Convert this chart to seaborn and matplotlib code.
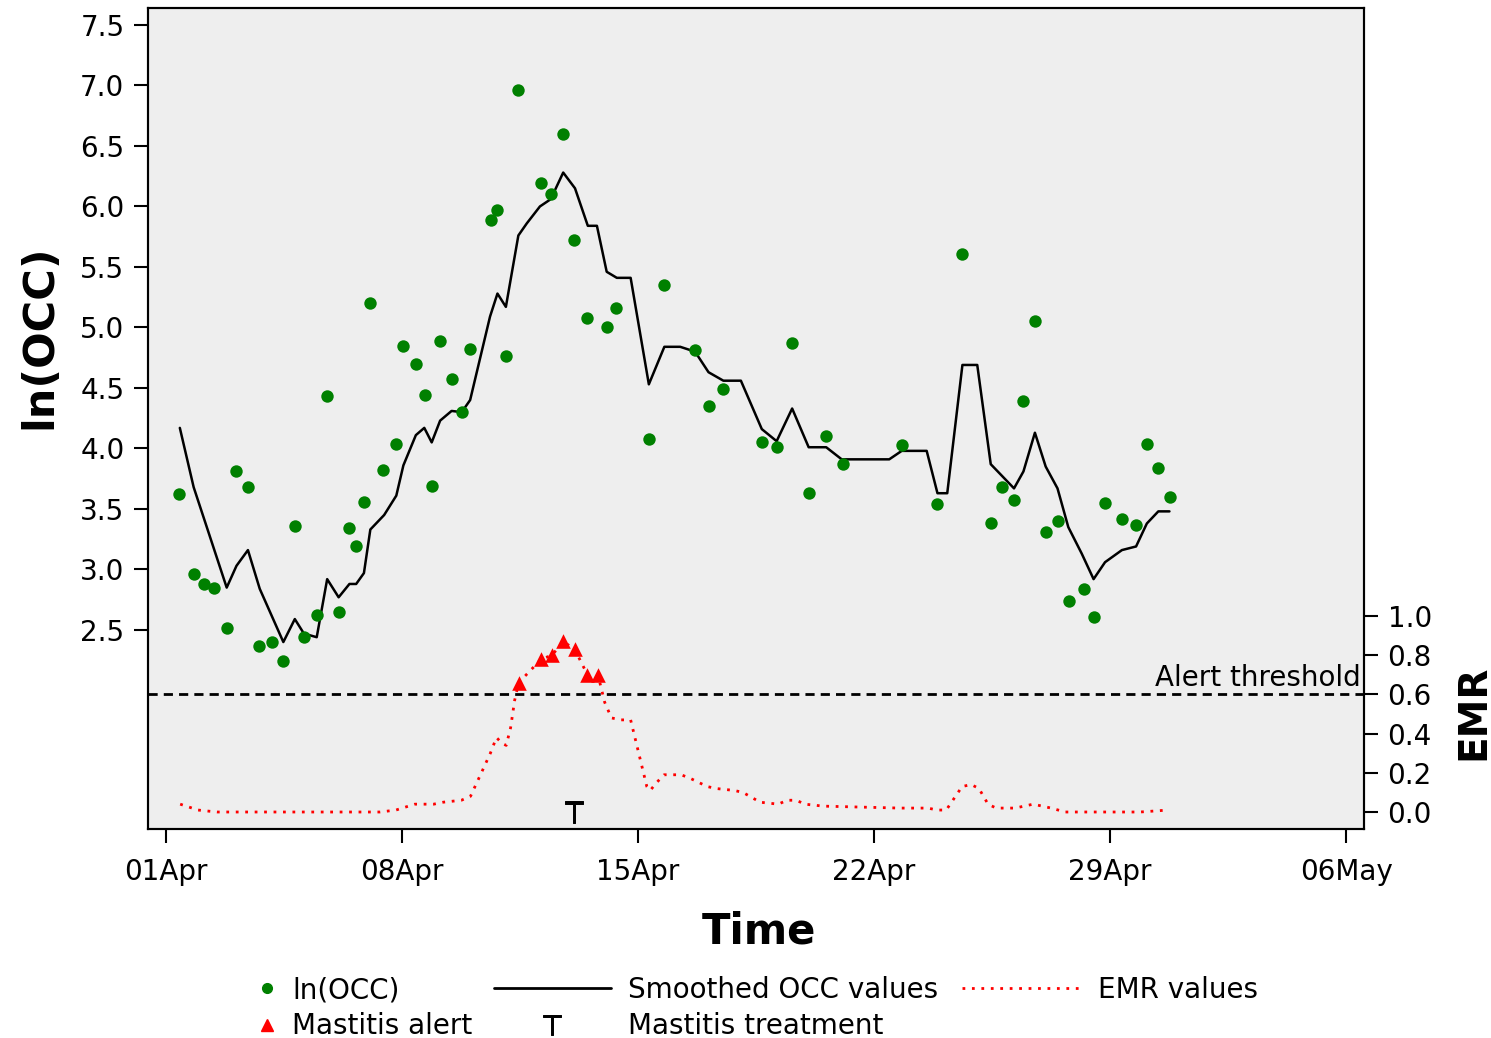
import numpy as np
import matplotlib
matplotlib.use("Agg")
import matplotlib.pyplot as plt
from matplotlib.lines import Line2D
import seaborn as sns

# days since 01Apr
occ_day = [0.39, 0.82, 1.13, 1.41, 1.80, 2.08, 2.43, 2.76, 3.14, 3.48,
           3.82, 4.09, 4.47, 4.78, 5.12, 5.42, 5.64, 5.87, 6.05, 6.45,
           6.81, 7.04, 7.42, 7.67, 7.88, 8.14, 8.47, 8.77, 9.03, 9.63,
           9.82, 10.08, 10.45, 11.13, 11.43, 11.78, 12.11, 12.48, 13.07, 13.35,
           14.32, 14.78, 15.69, 16.09, 16.53, 17.68, 18.12, 18.56, 19.06, 19.58,
           20.07, 21.82, 22.87, 23.62, 24.46, 24.79, 25.15, 25.43, 25.78, 26.09,
           26.45, 26.78, 27.22, 27.52, 27.85, 28.35, 28.76, 29.09, 29.41, 29.77]
occ_ln = [3.62, 2.96, 2.88, 2.85, 2.52, 3.81, 3.68, 2.37, 2.40, 2.24,
          3.36, 2.44, 2.62, 4.43, 2.65, 3.34, 3.19, 3.56, 5.20, 3.82,
          4.04, 4.85, 4.70, 4.44, 3.69, 4.89, 4.57, 4.30, 4.82, 5.89,
          5.97, 4.76, 6.96, 6.19, 6.10, 6.60, 5.72, 5.08, 5.00, 5.16,
          4.08, 5.35, 4.81, 4.35, 4.49, 4.05, 4.01, 4.87, 3.63, 4.10,
          3.87, 4.03, 3.54, 5.61, 3.38, 3.68, 3.57, 4.39, 5.05, 3.31,
          3.40, 2.74, 2.84, 2.61, 3.55, 3.42, 3.37, 4.04, 3.84, 3.60]

smooth_day = [0.41, 0.82, 1.80, 2.09, 2.43, 2.78, 3.48, 3.82, 4.09, 4.47,
              4.78, 5.12, 5.44, 5.64, 5.87, 6.06, 6.47, 6.83, 7.04, 7.41,
              7.66, 7.88, 8.13, 8.47, 8.77, 9.02, 9.61, 9.83, 10.08, 10.45,
              10.70, 11.09, 11.41, 11.78, 12.13, 12.51, 12.78, 13.07, 13.37, 13.78,
              14.32, 14.78, 15.25, 15.69, 16.09, 16.53, 17.05, 17.67, 18.11, 18.57,
              19.06, 19.58, 20.04, 21.45, 21.82, 22.56, 22.88, 23.17, 23.62, 24.06,
              24.46, 25.15, 25.43, 25.77, 26.09, 26.44, 26.76, 27.16, 27.51, 27.85,
              28.35, 28.77, 29.09, 29.43, 29.76]
smooth_ln = [4.17, 3.68, 2.85, 3.03, 3.16, 2.84, 2.40, 2.59, 2.47, 2.44,
             2.92, 2.77, 2.88, 2.88, 2.97, 3.33, 3.45, 3.61, 3.86, 4.11,
             4.17, 4.05, 4.23, 4.31, 4.30, 4.40, 5.09, 5.28, 5.17, 5.76,
             5.86, 6.00, 6.06, 6.28, 6.15, 5.84, 5.84, 5.46, 5.41, 5.41,
             4.53, 4.84, 4.84, 4.80, 4.63, 4.56, 4.56, 4.16, 4.06, 4.33,
             4.01, 4.01, 3.91, 3.91, 3.98, 3.98, 3.63, 3.63, 4.69, 4.69,
             3.87, 3.67, 3.81, 4.13, 3.85, 3.67, 3.35, 3.13, 2.92, 3.06,
             3.16, 3.19, 3.38, 3.48, 3.48]

emr_day = [0.42, 0.95, 1.51, 6.35, 6.82, 7.38, 7.94, 8.22, 8.76, 9.03,
           9.38, 9.62, 9.80, 9.97, 10.09, 10.22, 10.34, 10.46, 11.13, 11.45,
           11.78, 12.12, 12.50, 12.81, 13.01, 13.21, 13.50, 13.78, 14.26, 14.36,
           14.55, 14.77, 15.28, 15.57, 16.05, 16.31, 16.85, 17.11, 17.62, 18.16,
           18.42, 18.69, 18.95, 19.49, 21.77, 22.60, 22.87, 23.14, 23.61, 23.88,
           24.11, 24.38, 24.62, 25.18, 25.72, 26.25, 26.67, 28.89, 29.72]
emr_val = [0.04, 0.01, 0.00, 0.00, 0.01, 0.04, 0.04, 0.05, 0.06, 0.08,
           0.21, 0.30, 0.38, 0.35, 0.34, 0.43, 0.57, 0.66, 0.78, 0.80,
           0.87, 0.83, 0.70, 0.70, 0.56, 0.48, 0.47, 0.47, 0.13, 0.11,
           0.15, 0.19, 0.19, 0.17, 0.13, 0.12, 0.11, 0.10, 0.05, 0.04,
           0.06, 0.06, 0.04, 0.03, 0.02, 0.02, 0.01, 0.01, 0.13, 0.14,
           0.12, 0.04, 0.02, 0.02, 0.04, 0.02, 0.00, 0.00, 0.01]

alert_day = [10.46, 11.13, 11.45, 11.78, 12.12, 12.50, 12.81]
alert_emr = [0.66, 0.78, 0.80, 0.87, 0.83, 0.70, 0.70]
treat_day = [12.10]
treat_emr = [0.0]

tick_days = [0, 7, 14, 21, 28, 35]
tick_labels = ["01Apr", "08Apr", "15Apr", "22Apr", "29Apr", "06May"]
alert_threshold = 0.6

sns.set_style("white")
plt.rcParams["font.family"] = ["DejaVu Sans"]
plt.rcParams.update({"text.color": "black", "axes.labelcolor": "black",
                     "xtick.color": "black", "ytick.color": "black",
                     "axes.edgecolor": "black"})

W, H = 1491, 1038
fig = plt.figure(figsize=(W / 100, H / 100), dpi=100)
ax = fig.add_axes([148 / W, 1 - 829 / H, (1364 - 148) / W, (829 - 8) / H])
ax.set_facecolor("#eeeeee")
ax2 = ax.twinx()

green = "#008000"
dots = (0, (1, 2.4))
fs = 20

sns.scatterplot(x=occ_day, y=occ_ln, ax=ax, color=green, s=80, linewidth=0, zorder=3)
sns.lineplot(x=smooth_day, y=smooth_ln, ax=ax, color="black", lw=1.8,
             sort=False, estimator=None, zorder=2)

ax2.plot(emr_day, emr_val, color="red", lw=2, linestyle=dots)
ax2.axhline(alert_threshold, color="black", lw=2, linestyle=(0, (3.3, 2.2)))
ax2.scatter(alert_day, alert_emr, marker="^", color="red", s=110, linewidths=0, zorder=4)
ax2.scatter(treat_day, treat_emr, marker="$\\mathrm{T}$", color="black", s=230, linewidths=0.7)
ax2.text(0.997, 0.645, "Alert threshold", transform=ax2.get_yaxis_transform(),
         ha="right", va="baseline", fontsize=fs)

ax.set_xlim(-0.534, 35.53)
ax.set_ylim(0.855, 7.64)
ax2.set_ylim(-0.0867, 4.102)

ax.set_xticks(tick_days, tick_labels)
ax.set_yticks(np.arange(2.5, 7.51, 0.5))
ax.set_yticklabels([f"{v:.1f}" for v in np.arange(2.5, 7.51, 0.5)])
ax2.set_yticks(np.arange(0, 1.01, 0.2))
ax2.set_yticklabels([f"{v:.1f}" for v in np.arange(0, 1.01, 0.2)])

ax.tick_params(axis="both", direction="out", length=10, width=1.5, labelsize=fs,
               bottom=True, left=True)
ax.tick_params(axis="x", pad=11)
ax.tick_params(axis="y", pad=7)
ax2.tick_params(axis="y", direction="out", length=10, width=1.5, labelsize=fs,
                right=True, pad=7)

for a in (ax, ax2):
    for sp in a.spines.values():
        sp.set_visible(True)
        sp.set_linewidth(1.5)
        sp.set_color("black")

ax.set_xlabel("Time", fontsize=30, fontweight="bold")
ax.xaxis.set_label_coords(0.5025, -0.099)
ax.set_ylabel("ln(OCC)", fontsize=31, fontweight="bold")
ax.yaxis.set_label_coords(-0.072, 0.6)
ax2.set_ylabel("EMR", fontsize=28, fontweight="bold")
ax2.yaxis.set_label_coords(1.0745, 0.1425)

# legend, built column by column
h_occ = Line2D([], [], marker="o", color=green, linestyle="none", markersize=7)
h_alert = Line2D([], [], marker="^", color="red", linestyle="none", markersize=8)
h_smooth = Line2D([], [], color="black", lw=2)
h_treat = Line2D([], [], marker="$\\mathrm{T}$", color="black", linestyle="none",
                 markersize=15, markeredgewidth=0.7)
h_emr = Line2D([], [], color="red", lw=2, linestyle=dots)

top = 1 - 976 / H
common = dict(loc="upper left", frameon=False, fontsize=fs, borderpad=0,
              borderaxespad=0, labelspacing=0.3)
fig.legend([h_occ, h_alert], ["ln(OCC)", "Mastitis alert"],
           bbox_to_anchor=(253 / W, top), handlelength=1.0, handletextpad=0.42, **common)
fig.legend([h_smooth, h_treat], ["Smoothed OCC values", "Mastitis treatment"],
           bbox_to_anchor=(494 / W, top), handlelength=4.2, handletextpad=0.62, **common)
fig.legend([h_emr], ["EMR values"],
           bbox_to_anchor=(962 / W, top), handlelength=4.2, handletextpad=0.7, **common)

fig.savefig("out.png", dpi=100)
